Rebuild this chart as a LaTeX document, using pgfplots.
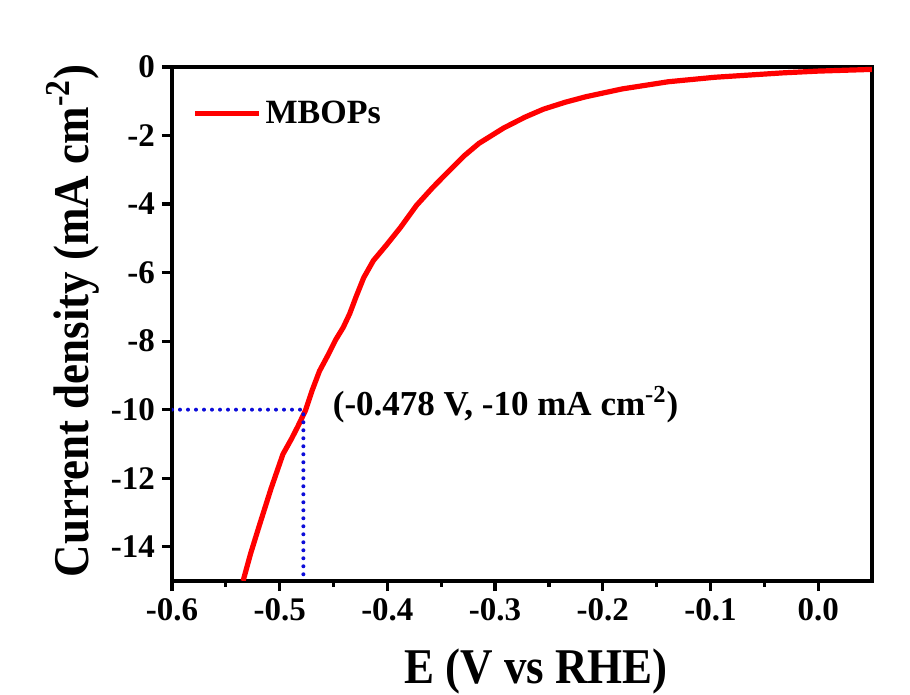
\documentclass[border=0pt]{standalone}
\usepackage{fontspec}
\setmainfont{Liberation Serif}
\newfontfamily\labelfont{Liberation Serif}[FakeStretch=0.9]
\usepackage{pgfplots}
\pgfplotsset{compat=1.18}
\definecolor{dotblue}{rgb}{0.05,0.05,0.85}
\begin{document}
\begin{tikzpicture}
\useasboundingbox (-86pt,-57pt) rectangle (369pt,290.5pt);
\begin{axis}[
  scale only axis,
  width=350pt, height=257pt,
  xmin=-0.6, xmax=0.05, ymin=-15, ymax=0,
  xtick={-0.6,-0.5,-0.4,-0.3,-0.2,-0.1,0.0},
  ytick={0,-2,-4,-6,-8,-10,-12,-14},
  minor x tick num=1,
  xtick pos=bottom, ytick pos=left,
  tick align=outside,
  major tick length=5pt, minor tick length=3pt,
  axis line style={line width=1.6pt},
  every tick/.style={line width=1.6pt, black},
  /pgf/number format/assume math mode=true,
  xticklabel style={font=\fontsize{16.5}{18}\selectfont\bfseries, /pgf/number format/fixed, /pgf/number format/fixed zerofill, /pgf/number format/precision=1},
  yticklabel style={font=\fontsize{16.5}{18}\selectfont\bfseries},
  xlabel={E (V vs RHE)},
  ylabel={Current density (mA cm\textsuperscript{-2})},
  xlabel style={font=\labelfont\fontsize{25}{28}\selectfont\bfseries, at={(axis description cs:0.52,-0.2)}, anchor=base},
  ylabel style={font=\labelfont\fontsize{25}{28}\selectfont\bfseries, at={(axis description cs:-0.12,0.506)}, anchor=base},
  legend style={draw=none, fill=none, at={(axis description cs:0.02,0.91)}, anchor=west, font=\fontsize{17}{19}\selectfont\bfseries},
  legend image code/.code={\draw[#1] (0pt,0pt) -- (32pt,0pt);},
]
\addplot[red, line width=2.6pt, line join=round] coordinates {
(-0.534,-15.0) (-0.527,-14.2) (-0.519,-13.39) (-0.508,-12.3) (-0.497,-11.3)
(-0.489,-10.85) (-0.483,-10.48) (-0.476,-10.02) (-0.470,-9.45) (-0.463,-8.87)
(-0.455,-8.4) (-0.448,-7.96) (-0.441,-7.6) (-0.435,-7.2) (-0.429,-6.7)
(-0.422,-6.15) (-0.413,-5.65) (-0.401,-5.2) (-0.388,-4.69) (-0.373,-4.04)
(-0.358,-3.52) (-0.343,-3.04) (-0.329,-2.6) (-0.315,-2.23) (-0.292,-1.78)
(-0.272,-1.46) (-0.255,-1.23) (-0.235,-1.03) (-0.216,-0.87) (-0.182,-0.64)
(-0.139,-0.43) (-0.096,-0.30) (-0.032,-0.17) (0.0,-0.12) (0.05,-0.07)
};
\addlegendentry{MBOPs}
\addplot[dotblue, line width=2pt, line cap=round, dash pattern=on 0pt off 4pt, forget plot] coordinates {(-0.6,-10) (-0.478,-10) (-0.478,-15)};
\node[anchor=west, font=\fontsize{17.5}{19}\selectfont\bfseries, inner sep=0pt] at (axis cs:-0.451,-9.86) {(-0.478 V, -10 mA cm\textsuperscript{-2})};
\end{axis}
\end{tikzpicture}
\end{document}
